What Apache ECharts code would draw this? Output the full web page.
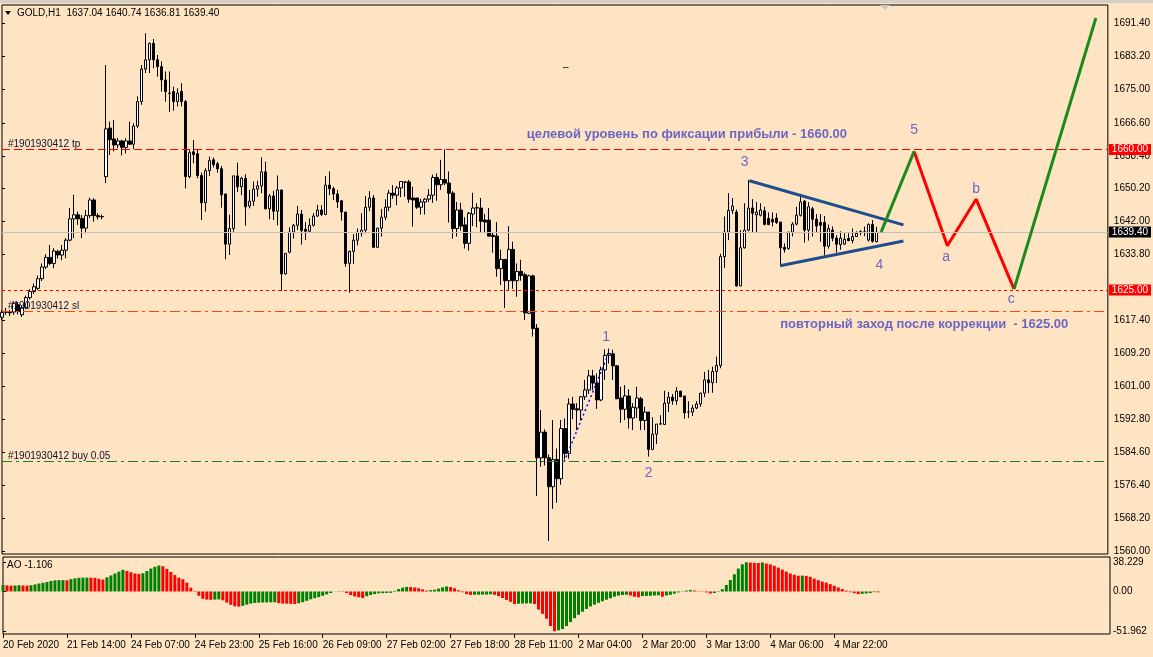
<!DOCTYPE html>
<html><head><meta charset="utf-8">
<script src="https://cdn.jsdelivr.net/npm/echarts@6/dist/echarts.min.js"></script>
<style>html,body{margin:0;padding:0;background:#FFE4C4;}#c{width:1153px;height:657px;}</style>
</head><body><div id="c"></div>
<script>
// ---- tick labels ----
const xTickLabels = ['20 Feb 2020','21 Feb 14:00','24 Feb 07:00','24 Feb 23:00','25 Feb 16:00','26 Feb 09:00','27 Feb 02:00','27 Feb 18:00','28 Feb 11:00','2 Mar 04:00','2 Mar 20:00','3 Mar 13:00','4 Mar 06:00','4 Mar 22:00'];
const priceTickLabels = ['1560.00','1568.20','1576.40','1584.60','1592.80','1601.00','1609.20','1617.40','1633.80','1642.00','1650.20','1658.40','1666.60','1675.00','1683.20','1691.40'];
const aoTickValues = [38.229, 0, -51.962];
const barsPerLabel = 16;

// ---- H1 candles: [open, high, low, close] ----
const ohlc = [
[1618.2,1620.0,1617.5,1619.4],[1619.4,1620.5,1618.8,1619.6],[1619.6,1620.0,1618.5,1619.3],[1619.5,1622.1,1618.8,1621.7],
[1621.3,1622.0,1618.9,1619.6],[1618.8,1621.0,1618.3,1620.6],[1620.6,1623.6,1620.2,1623.1],[1623.1,1625.2,1622.6,1624.6],
[1624.6,1626.6,1624.0,1625.8],[1625.4,1628.6,1625.0,1627.8],[1627.8,1631.6,1627.2,1630.7],[1630.7,1633.9,1630.2,1633.1],
[1633.1,1636.2,1631.2,1631.6],[1631.6,1635.4,1630.4,1634.7],[1634.6,1635.0,1632.8,1633.7],[1633.7,1636.2,1632.4,1634.9],
[1634.9,1637.9,1632.9,1637.4],[1637.4,1645.4,1637.1,1642.7],[1642.7,1648.7,1637.9,1643.7],[1643.7,1644.5,1641.2,1642.7],
[1642.8,1643.7,1637.9,1640.4],[1640.4,1644.9,1639.1,1643.5],[1643.5,1648.0,1642.9,1647.4],[1647.4,1647.8,1642.0,1643.5],
[1643.5,1644.1,1642.5,1643.2],[1643.2,1643.8,1642.6,1643.3],
[1653.2,1681.0,1651.6,1665.1],[1665.3,1666.9,1658.6,1662.4],[1662.6,1667.3,1659.5,1661.1],[1661.1,1662.8,1660.3,1662.1],
[1662.1,1662.4,1658.5,1660.5],[1660.5,1662.8,1659.0,1662.1],[1662.1,1666.9,1661.1,1661.3],[1661.3,1666.5,1660.1,1665.8],
[1665.8,1673.2,1665.3,1671.9],[1671.9,1681.0,1671.1,1680.0],[1680.0,1688.9,1679.0,1682.3],[1682.3,1686.6,1679.0,1686.4],
[1686.4,1687.5,1680.2,1682.3],[1682.3,1683.5,1678.1,1680.6],[1680.6,1681.9,1674.4,1677.3],[1677.3,1679.4,1671.9,1674.4],
[1674.0,1679.4,1669.3,1673.9],[1674.4,1675.6,1669.6,1671.9],[1671.9,1675.2,1670.7,1674.0],[1674.4,1676.5,1670.7,1671.9],
[1671.9,1672.3,1650.3,1653.2],[1653.2,1659.9,1652.8,1659.2],[1659.4,1662.3,1656.5,1658.7],[1658.9,1660.0,1652.8,1653.5],
[1653.5,1654.2,1642.4,1646.7],[1646.7,1655.3,1644.5,1654.7],[1654.7,1658.2,1653.4,1657.2],[1657.4,1658.0,1655.5,1656.2],
[1656.4,1656.9,1654.2,1655.2],[1655.2,1655.9,1645.5,1648.7],[1648.9,1648.9,1632.6,1636.4],[1636.4,1643.7,1633.7,1640.3],
[1640.3,1653.4,1639.5,1653.4],[1653.4,1656.7,1649.4,1650.7],[1650.7,1653.2,1648.6,1652.8],[1652.8,1653.8,1641.0,1645.7],
[1645.9,1649.9,1645.3,1647.1],[1647.1,1652.0,1645.9,1650.1],[1650.1,1652.2,1648.2,1650.9],[1650.9,1658.0,1649.1,1654.4],
[1654.4,1656.9,1645.1,1645.2],[1645.2,1648.9,1642.6,1648.4],[1648.4,1649.7,1642.4,1644.6],[1644.6,1653.5,1641.1,1649.9],
[1649.9,1649.9,1624.8,1629.0],[1629.0,1634.1,1628.8,1634.1],[1634.4,1640.6,1634.1,1639.4],[1639.4,1641.4,1637.8,1641.1],
[1641.1,1645.9,1639.9,1643.9],[1643.9,1644.9,1636.3,1639.8],[1640.1,1641.9,1637.4,1639.6],[1639.6,1642.8,1639.3,1641.1],
[1641.1,1644.1,1640.8,1643.4],[1643.4,1646.2,1643.2,1644.9],[1644.9,1646.1,1643.4,1643.8],[1643.8,1653.4,1643.6,1651.1],
[1651.1,1654.5,1648.6,1650.2],[1650.2,1650.7,1647.4,1648.9],[1648.9,1649.9,1645.4,1646.9],[1647.2,1647.4,1642.3,1644.4],
[1644.4,1644.4,1630.8,1631.6],[1631.6,1634.8,1624.3,1634.6],[1634.6,1638.9,1631.5,1637.4],[1637.4,1640.3,1636.1,1639.4],
[1639.2,1644.1,1638.3,1639.9],[1639.9,1648.4,1639.1,1645.6],[1645.6,1649.6,1644.6,1647.9],[1647.9,1648.6,1635.6,1635.6],
[1635.6,1640.4,1635.6,1640.4],[1640.4,1645.2,1638.3,1643.1],[1643.1,1647.6,1642.4,1645.6],[1645.6,1649.9,1644.6,1649.1],
[1649.1,1651.1,1647.7,1648.6],[1648.6,1650.9,1646.1,1650.4],[1650.4,1652.0,1648.1,1652.0],[1651.8,1652.0,1648.2,1651.9],
[1651.9,1652.4,1646.7,1647.6],[1647.9,1650.7,1640.8,1647.4],[1647.9,1647.9,1645.2,1645.6],[1645.6,1647.7,1643.8,1646.9],
[1646.9,1647.9,1643.8,1647.6],[1647.6,1650.1,1646.9,1648.6],[1648.6,1653.7,1646.7,1653.0],[1653.0,1654.0,1647.2,1651.2],
[1651.2,1657.4,1649.9,1652.5],[1652.5,1660.0,1651.1,1651.6],[1651.6,1654.5,1641.8,1649.1],[1649.1,1649.6,1637.8,1640.3],
[1640.3,1646.9,1638.3,1644.9],[1644.9,1646.7,1639.8,1640.9],[1641.2,1643.1,1635.3,1636.6],[1636.6,1644.4,1634.8,1644.1],
[1643.9,1649.2,1640.9,1645.4],[1645.4,1646.6,1640.6,1645.5],[1645.4,1647.9,1639.4,1642.1],[1642.4,1643.9,1639.4,1641.9],
[1642.4,1645.4,1638.3,1638.4],[1638.6,1639.4,1634.3,1638.3],[1638.4,1641.9,1628.3,1630.3],[1630.3,1635.0,1626.2,1632.6],
[1632.6,1632.6,1620.5,1627.3],[1627.3,1640.9,1625.0,1635.1],[1635.1,1637.0,1625.3,1627.3],[1627.3,1631.6,1623.3,1629.6],
[1629.6,1632.5,1627.3,1628.6],[1628.8,1629.3,1617.5,1619.3],[1619.2,1628.8,1619.0,1628.5],[1628.5,1628.8,1613.4,1615.4],
[1615.5,1616.5,1573.7,1583.2],[1583.2,1595.1,1581.0,1589.6],[1589.6,1590.3,1581.3,1583.2],[1583.2,1584.0,1562.5,1576.0],
[1576.0,1592.6,1570.5,1582.8],[1582.8,1585.5,1572.0,1578.0],[1578.0,1592.6,1576.5,1590.5],[1590.5,1593.0,1582.8,1584.3],
[1584.3,1598.0,1583.0,1596.6],[1596.6,1598.4,1592.8,1595.3],[1595.4,1596.8,1590.1,1595.1],[1595.1,1598.6,1592.5,1598.4],
[1598.4,1602.6,1597.6,1600.1],[1600.1,1605.1,1599.1,1603.6],[1603.6,1605.1,1600.1,1601.8],[1601.8,1604.2,1595.4,1597.6],
[1597.6,1605.9,1597.3,1605.1],[1605.1,1610.2,1602.6,1608.7],[1608.7,1610.4,1606.7,1609.2],[1609.1,1610.1,1602.6,1606.1],
[1606.1,1606.3,1597.9,1597.9],[1598.1,1600.9,1591.9,1595.3],[1595.3,1601.3,1592.6,1598.6],[1598.6,1600.3,1590.5,1593.1],
[1593.1,1596.8,1590.1,1595.8],[1595.6,1600.9,1593.1,1598.1],[1597.9,1598.4,1590.1,1592.5],[1592.5,1595.9,1590.1,1594.6],
[1594.6,1594.6,1583.5,1585.3],[1585.3,1593.3,1585.1,1589.1],[1589.1,1591.6,1586.6,1591.6],[1591.6,1593.8,1591.4,1591.7],
[1591.5,1599.9,1591.4,1596.8],[1596.8,1599.6,1594.6,1598.3],[1598.3,1599.1,1596.4,1597.4],[1597.4,1600.8,1596.4,1599.8],
[1599.8,1599.9,1598.3,1598.4],[1598.6,1598.6,1592.9,1594.4],[1594.6,1597.3,1593.1,1594.6],[1594.6,1596.4,1593.6,1595.6],
[1595.6,1597.3,1595.3,1596.6],[1596.6,1599.4,1595.9,1599.3],[1599.3,1604.6,1598.3,1602.6],[1602.6,1605.1,1599.3,1601.9],
[1601.9,1605.9,1599.4,1604.7],[1604.7,1608.4,1601.8,1606.2],[1606.2,1634.0,1605.5,1633.3],[1633.3,1643.3,1630.5,1639.4],
[1639.4,1649.1,1637.4,1644.8],[1644.8,1647.9,1643.9,1645.9],[1644.4,1645.0,1625.8,1626.0],[1626.0,1639.9,1626.0,1635.5],
[1635.5,1646.6,1635.3,1639.9],[1639.9,1652.4,1639.6,1645.4],[1645.4,1647.6,1639.4,1644.1],[1643.7,1646.9,1639.4,1644.4],
[1643.6,1646.6,1643.3,1644.9],[1644.7,1645.7,1641.1,1641.3],[1642.8,1644.3,1641.1,1641.3],[1642.6,1644.3,1640.8,1641.9],
[1642.9,1644.1,1641.4,1641.8],[1641.9,1641.9,1631.0,1635.5],[1635.6,1636.6,1634.3,1635.1],[1635.3,1639.4,1635.0,1639.4],
[1639.4,1641.9,1638.3,1641.4],[1641.4,1645.7,1641.1,1643.6],[1643.6,1648.6,1643.3,1646.9],[1647.1,1647.4,1636.8,1639.9],
[1639.9,1646.9,1637.3,1645.7],[1645.2,1645.7,1638.3,1642.6],[1642.6,1643.9,1639.4,1640.9],[1641.8,1643.9,1637.0,1641.1],
[1641.8,1643.4,1633.6,1635.9],[1635.9,1641.3,1635.3,1640.3],[1639.9,1640.8,1637.1,1637.9],[1637.9,1638.6,1634.3,1636.4],
[1636.3,1639.6,1635.0,1637.9],[1636.4,1639.1,1636.3,1637.6],[1637.8,1639.1,1637.1,1637.3],[1637.3,1640.3,1636.6,1638.3],
[1638.3,1639.6,1638.3,1639.1],[1639.4,1639.9,1638.6,1639.5],[1639.3,1640.8,1638.4,1639.5],[1637.4,1641.6,1637.1,1641.3],
[1641.3,1642.4,1636.8,1637.1],[1637.04,1640.74,1636.81,1639.40]
];

// ---- Awesome Oscillator values ----
const ao = [
8.4,8.0,7.6,7.8,8.2,7.8,7.6,8.2,9.2,10.4,11.4,12.4,13.8,14.6,14.8,14.9,14.6,16.2,17.2,17.9,
18.1,18.2,18.0,17.9,16.6,15.6,18.6,21.0,23.5,26.0,28.4,26.8,25.2,23.6,22.8,23.8,26.8,30.0,32.4,34.0,
33.0,29.5,25.5,21.5,18.0,16.0,11.5,5.0,-0.6,-5.6,-9.6,-10.6,-10.9,-10.6,-10.4,-11.6,-14.6,-17.4,-19.4,-19.8,
-18.8,-17.2,-15.8,-15.0,-14.6,-14.4,-14.3,-14.2,-14.1,-15.2,-15.8,-16.0,-16.1,-16.3,-15.4,-14.0,-12.2,-10.2,-8.8,-7.4,
-5.6,-3.8,-2.0,-0.2,0.4,-0.4,-2.0,-4.6,-6.4,-7.4,-8.6,-6.2,-4.6,-3.4,-2.4,-2.2,-2.0,-1.8,0.8,3.2,
5.0,6.0,5.8,5.2,4.2,2.8,1.2,1.8,2.4,3.8,5.4,6.6,5.8,4.2,1.6,-1.0,-3.4,-4.4,-4.3,-4.2,
-4.1,-4.0,-3.7,-4.4,-6.0,-8.5,-11.0,-13.5,-16.4,-16.0,-15.8,-15.6,-15.5,-16.4,-23.6,-29.2,-35.6,-45.2,-51.962,-50.8,
-49.2,-45.2,-40.0,-35.0,-30.5,-26.5,-22.8,-19.6,-17.2,-14.8,-12.8,-10.8,-8.8,-6.8,-5.4,-4.6,-4.3,-5.2,-6.8,-7.6,
-6.0,-5.8,-5.6,-5.2,-5.0,-6.8,-5.2,-4.4,-2.8,-1.2,0.4,1.2,2.0,1.2,0.4,-0.4,-1.2,-2.6,-2.0,-0.6,
3.0,8.5,15.0,22.5,30.0,35.6,38.229,37.8,37.6,37.3,38.0,36.6,35.4,33.6,31.2,28.6,26.0,23.6,21.8,20.6,
20.8,20.4,19.2,16.8,14.8,13.0,11.6,9.6,7.6,5.2,3.2,1.2,-1.0,-2.2,-3.4,-3.0,-2.6,-2.2,-0.9,-1.106
];

// ---- order levels (price) ----
const tpLevel = 1660.00;
const reentryLevel = 1625.00;
const slLevel = 1619.76;
const buyLevel = 1582.40;
const lastPrice = 1639.40;

// ---- drawn objects in [bar index, price] ----
const triangleUpper = [[187.2,1652.2],[225.8,1641.2]];
const triangleLower = [[194.9,1631.0],[225.8,1637.2]];
const greenArrow1 = [[220.2,1639.4],[228.5,1659.6]];
const redPath = [[228.5,1659.4],[236.8,1636.0],[244.0,1647.6],[253.5,1625.2]];
const greenArrow2 = [[253.5,1625.2],[274.0,1692.7]];
const tradeLine = [[140.8,1582.2],[152.0,1609.3]];
const waveLabels = [['1',151.3,1613.3],['2',162.0,1579.4],['3',186.0,1656.9],['4',219.8,1631.2],
                    ['5',228.5,1664.8],['a',236.5,1633.2],['b',244.0,1650.1],['c',252.8,1622.7]];
const notes = [['целевой уровень по фиксации прибыли - 1660.00',131.3,1663.8],
               ['повторный заход после коррекции  - 1625.00',194.8,1616.3]];

const FONT = 'Liberation Sans';
const chart = echarts.init(document.getElementById('c'), null, {renderer:'canvas'});
const xTickValues = xTickLabels.map((_, k) => k * barsPerLabel);

function levelLine(y, color, type, tag, tagBg, leftText){
  const items = [];
  items.push({yAxis:y, lineStyle:{color:color,type:type,width:1},
    label:{show:!!tag, position:'end', formatter:tag||'', distance:1, backgroundColor:tagBg, color:'#fff',
           padding:[1,3,0,3], fontSize:10, fontFamily:FONT}});
  if(leftText){
    items.push({yAxis:y, lineStyle:{color:color,type:type,width:1},
      label:{show:true, position:'insideStartTop', formatter:leftText, distance:[6,0], color:'#101030',
             fontSize:10, fontFamily:FONT}});
  }
  return items;
}

const markLines = [].concat(
  levelLine(lastPrice,'#c0c0c0','solid','1639.40','#000000',null),
  levelLine(tpLevel,'#ff0000',[8,4],'1660.00','#ff0000','#1901930412 tp'),
  levelLine(reentryLevel,'#ff0000',[3,3],'1625.00','#ff0000',null),
  levelLine(slLevel,'#ff4500',[10,4,3,4],null,null,'#1901930412 sl'),
  levelLine(buyLevel,'#1e7e1e',[10,4,3,4],null,null,'#1901930412 buy 0.05')
);

const option = {
  animation:false,
  backgroundColor:'#FFE4C4',
  textStyle:{fontFamily:FONT},
  grid:[
    {left:2, top:5, width:1108, height:549, show:true, borderColor:'#000', borderWidth:1, backgroundColor:'transparent'},
    {left:2, top:557, width:1108, height:77, show:true, borderColor:'#000', borderWidth:1, backgroundColor:'transparent'}
  ],
  xAxis:[
    {type:'value', gridIndex:0, min:0, max:277, show:false},
    {type:'value', gridIndex:1, min:0, max:277, position:'bottom',
     axisLine:{show:false, onZero:false}, splitLine:{show:false},
     axisTick:{show:true, length:4, lineStyle:{color:'#000'}, customValues:xTickValues},
     axisLabel:{color:'#000', fontSize:10, fontFamily:FONT, align:'left', margin:6, customValues:xTickValues,
       formatter:v => xTickLabels[Math.round(v / barsPerLabel)] || ''}}
  ],
  yAxis:[
    {type:'value', gridIndex:0, position:'right', min:1559.25, max:1695.95,
     axisLine:{show:false}, splitLine:{show:false},
     axisTick:{show:true, length:3, lineStyle:{color:'#000'}, customValues:priceTickLabels.map(parseFloat)},
     axisLabel:{color:'#000', fontSize:10, fontFamily:FONT, margin:6, customValues:priceTickLabels.map(parseFloat),
       formatter:v => { const s = priceTickLabels.find(t => Math.abs(parseFloat(t)-v) < 0.01); return s || ''; }}},
    {type:'value', gridIndex:1, position:'right', min:-55.6, max:45.1,
     axisLine:{show:false}, splitLine:{show:false},
     axisTick:{show:true, length:3, lineStyle:{color:'#000'}, customValues:aoTickValues},
     axisLabel:{color:'#000', fontSize:10, fontFamily:FONT, margin:3, customValues:aoTickValues,
       formatter:v => Math.abs(v) < 1e-9 ? '0.00' : v.toFixed(3)}}
  ],
  graphic:[
    {type:'rect', shape:{x:0,y:0,width:1153,height:3}, style:{fill:'#d4d0c8'}, silent:true},
    {type:'polygon', shape:{points:[[880,5],[890,5],[885,10]]}, style:{fill:'#c8c8c8'}, silent:true},
    {type:'polygon', shape:{points:[[5,11],[11,11],[8,15]]}, style:{fill:'#000'}, silent:true},
    {type:'text', left:17, top:8, style:{text:'GOLD,H1  1637.04 1640.74 1636.81 1639.40', fill:'#000', font:'10px "Liberation Sans"'}},
    {type:'text', left:7, top:560, style:{text:'AO -1.106', fill:'#000', font:'10px "Liberation Sans"'}},
    {type:'text', left:563, top:62, style:{text:'–', fill:'#000', font:'10px "Liberation Sans"'}}
  ],
  series:[
    {type:'candlestick', xAxisIndex:0, yAxisIndex:0, clip:false, barWidth:3,
     data: ohlc.map((d,i)=>[i, d[0], d[3], d[2], d[1]]),
     encode:{x:0, y:[1,2,3,4]},
     itemStyle:{color:'#ffffff', color0:'#000000', borderColor:'#000000', borderColor0:'#000000', borderWidth:1},
     markLine:{silent:true, symbol:'none', animation:false, precision:2, data:markLines}},
    {type:'line', xAxisIndex:0, yAxisIndex:0, data:tradeLine, symbol:'none', silent:true,
     lineStyle:{color:'#0000ff', width:1.5, type:[2,3]}},
    {type:'line', xAxisIndex:0, yAxisIndex:0, data:triangleUpper, symbol:'none', silent:true,
     lineStyle:{color:'#1e4f8c', width:3}},
    {type:'line', xAxisIndex:0, yAxisIndex:0, data:triangleLower, symbol:'none', silent:true,
     lineStyle:{color:'#1e4f8c', width:3}},
    {type:'line', xAxisIndex:0, yAxisIndex:0, data:redPath, symbol:'none', silent:true,
     lineStyle:{color:'#ff0000', width:3},
     markLine:{silent:true, symbol:['none','arrow'], symbolSize:[0,14], animation:false,
       lineStyle:{color:'#1a8a1a', width:3, type:'solid'}, label:{show:false},
       data:[
         [{coord:greenArrow1[0]},{coord:greenArrow1[1]}],
         [{coord:greenArrow2[0]},{coord:greenArrow2[1]}]
       ]}},
    {type:'scatter', xAxisIndex:0, yAxisIndex:0, symbolSize:1, silent:true, itemStyle:{color:'rgba(0,0,0,0)'},
     data: waveLabels.map(w=>({name:w[0], value:[w[1], w[2]]})),
     label:{show:true, position:'inside', formatter:p=>p.name, color:'#4646c4', fontSize:14, fontFamily:FONT}},
    {type:'scatter', xAxisIndex:0, yAxisIndex:0, symbolSize:1, silent:true, itemStyle:{color:'rgba(0,0,0,0)'},
     data: notes.map(w=>({name:w[0], value:[w[1], w[2]]})),
     label:{show:true, position:'right', distance:0, formatter:p=>p.name, color:'#4646c4', fontSize:13, fontWeight:'bold', fontFamily:FONT}},
    {type:'bar', xAxisIndex:1, yAxisIndex:1, barWidth:3, silent:true,
     data: ao.map((v,i)=>[i,v]),
     itemStyle:{color:p => (p.dataIndex === 0 || ao[p.dataIndex] >= ao[p.dataIndex-1]) ? '#008000' : '#ff0000'}}
  ]
};
chart.setOption(option);
</script>
</body></html>
